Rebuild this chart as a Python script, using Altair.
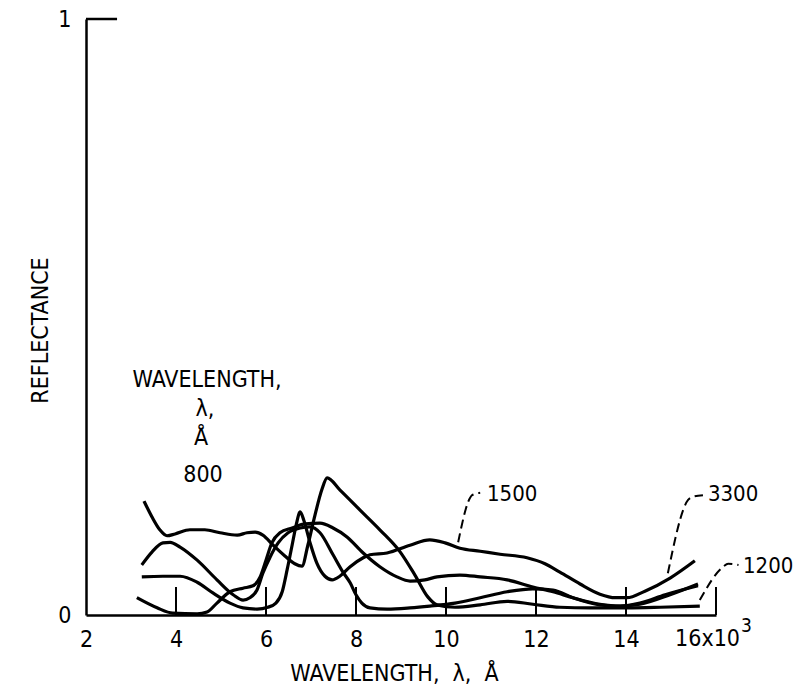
import altair as alt
import pandas as pd

# ---- curve data (wavelength in 10^3 Å, reflectance) ----
x_800 = [3.29, 3.47, 3.64, 3.80, 3.98, 4.31, 4.64, 4.98, 5.36, 5.58, 5.76, 5.93, 6.16, 6.42, 6.64, 6.80,
         6.93, 7.09, 7.24, 7.36, 7.64, 8.09, 8.53, 8.98, 9.31, 9.60, 9.80, 10.2, 10.76, 11.36, 11.93,
         12.53, 13.2, 14.02, 14.76, 15.64]
y_800 = [0.191, 0.164, 0.143, 0.133, 0.136, 0.143, 0.143, 0.138, 0.134, 0.138, 0.139, 0.134, 0.117, 0.099,
         0.086, 0.082, 0.117, 0.168, 0.210, 0.230, 0.210, 0.176, 0.143, 0.106, 0.067, 0.030, 0.017, 0.013,
         0.017, 0.023, 0.018, 0.013, 0.012, 0.012, 0.013, 0.015]

x_1500 = [3.24, 3.71, 4.09, 4.47, 4.82, 5.20, 5.49, 5.80, 6.04, 6.22, 6.36, 6.47, 6.58, 6.67, 6.76, 6.84,
          6.98, 7.13, 7.31, 7.47, 7.64, 7.87, 8.16, 8.31, 8.69, 9.2, 9.64, 9.98, 10.31, 10.76, 11.2, 11.8,
          12.2, 12.53, 12.98, 13.42, 13.76, 14.02, 14.42, 14.98, 15.53]
y_1500 = [0.064, 0.065, 0.065, 0.055, 0.037, 0.020, 0.012, 0.010, 0.013, 0.020, 0.039, 0.076, 0.117, 0.151,
          0.173, 0.159, 0.121, 0.087, 0.065, 0.059, 0.065, 0.081, 0.096, 0.101, 0.104, 0.117, 0.126, 0.121,
          0.112, 0.107, 0.102, 0.096, 0.086, 0.072, 0.052, 0.035, 0.029, 0.029, 0.040, 0.062, 0.091]

x_3300 = [3.24, 3.47, 3.71, 3.87, 4.09, 4.47, 4.91, 5.27, 5.49, 5.64, 5.80, 5.93, 6.09, 6.27, 6.49, 6.76,
          6.98, 7.2, 7.49, 7.71, 7.87, 8.0, 8.13, 8.31, 8.69, 9.2, 9.64, 10.2, 10.76, 11.36, 11.93, 12.38,
          12.82, 13.42, 13.87, 14.31, 14.87, 15.6]
y_3300 = [0.084, 0.106, 0.121, 0.122, 0.114, 0.092, 0.059, 0.034, 0.025, 0.029, 0.042, 0.070, 0.097, 0.121,
          0.138, 0.146, 0.148, 0.138, 0.101, 0.072, 0.054, 0.034, 0.020, 0.012, 0.010, 0.012, 0.015, 0.020,
          0.029, 0.039, 0.044, 0.042, 0.029, 0.017, 0.015, 0.020, 0.034, 0.049]

x_1200 = [3.13, 3.58, 3.93, 4.47, 4.69, 4.91, 5.20, 5.49, 5.71, 5.87, 6.0, 6.13, 6.31, 6.58, 6.87, 7.2,
          7.49, 7.8, 8.16, 8.53, 8.91, 9.2, 9.53, 9.8, 10.31, 10.76, 11.36, 11.93, 12.38, 12.82, 13.42,
          13.87, 14.31, 14.98, 15.6]
y_1200 = [0.029, 0.012, 0.003, 0.002, 0.005, 0.020, 0.039, 0.045, 0.049, 0.064, 0.092, 0.121, 0.138, 0.146,
          0.153, 0.154, 0.146, 0.131, 0.104, 0.081, 0.064, 0.057, 0.059, 0.064, 0.067, 0.064, 0.059, 0.047,
          0.039, 0.029, 0.018, 0.015, 0.018, 0.034, 0.052]

# ---- axis tick values ----
x_ticks = [2, 4, 6, 8, 10, 12, 14, 16]
inner_ticks = [4, 6, 8, 10, 12, 14, 16]
y_ticks = [0, 1]
last_label = "16x10"
last_exp = "3"

# ---- leader lines (dashed) ----
lead_1500_x = [10.27, 10.53, 10.58, 10.76]
lead_1500_y = [0.122, 0.196, 0.201, 0.205]
lead_3300_x = [14.93, 15.38, 15.47, 15.71]
lead_3300_y = [0.070, 0.193, 0.198, 0.201]
lead_1200_x = [15.64, 16.16, 16.27, 16.50]
lead_1200_y = [0.025, 0.081, 0.086, 0.084]

# ---- labels ----
lab_text = ["1500", "3300", "1200"]
lab_x = [10.91, 15.82, 16.60]
lab_y = [0.203, 0.203, 0.082]

key_text = ["WAVELENGTH,", "λ,", "Å", "800"]
key_x = [4.69, 4.64, 4.56, 4.60]
key_y = [0.394, 0.345, 0.297, 0.235]

FONT = "DejaVu Sans Condensed, DejaVu Sans, sans-serif"
FS = 23

rows = []
for name, xs, ys in [("800", x_800, y_800), ("1500", x_1500, y_1500),
                     ("3300", x_3300, y_3300), ("1200", x_1200, y_1200)]:
    for a, b in zip(xs, ys):
        rows.append({"series": name, "x": a, "y": b})
df = pd.DataFrame(rows)

lrows = []
for name, xs, ys in [("1500", lead_1500_x, lead_1500_y), ("3300", lead_3300_x, lead_3300_y),
                     ("1200", lead_1200_x, lead_1200_y)]:
    for i, (a, b) in enumerate(zip(xs, ys)):
        lrows.append({"series": name, "x": a, "y": b, "o": i})
ldf = pd.DataFrame(lrows)

xs_ = alt.Scale(domain=[2, 16], nice=False, zero=False)
ys_ = alt.Scale(domain=[0, 1], nice=False, zero=False)

x_axis = alt.Axis(
    values=x_ticks, labelExpr="datum.value == 16 ? '' : format(datum.value, 'd')",
    ticks=False, grid=False, domainColor="black", domainWidth=2.5,
    labelFont=FONT, labelFontSize=FS, labelColor="black", labelPadding=13,
    labelFlush=False, labelOverlap=False,
    title="WAVELENGTH,\u00a0 λ,\u00a0 Å", titleFont=FONT, titleFontSize=FS, titleFontWeight="normal",
    titleColor="black", titleBaseline="middle", titleAlign="center", titleY=58, titleX=308)
y_axis = alt.Axis(
    values=y_ticks, format="d", ticks=False, grid=False, domainColor="black", domainWidth=2.5,
    labelFont=FONT, labelFontSize=FS, labelColor="black", labelPadding=15,
    labelFlush=False, labelOverlap=False,
    title="REFLECTANCE", titleFont=FONT, titleFontSize=FS, titleFontWeight="normal",
    titleColor="black", titleBaseline="middle", titleAlign="center", titleX=-46, titleY=311)


def X(field="x:Q"):
    return alt.X(field, scale=xs_, axis=x_axis)


def Y(field="y:Q"):
    return alt.Y(field, scale=ys_, axis=y_axis)


lines = alt.Chart(df).mark_line(color="black", strokeWidth=3.2, interpolate="monotone",
                                clip=False).encode(x=X(), y=Y(), detail="series:N")

tick_df = pd.DataFrame({"x": inner_ticks, "y": [0] * len(inner_ticks), "y2": [0.047] * len(inner_ticks)})
ticks = alt.Chart(tick_df).mark_rule(color="black", strokeWidth=2).encode(x=X(), y=Y(), y2="y2:Q")

top_df = pd.DataFrame({"x": [2], "x2": [2.69], "y": [1]})
top_tick = alt.Chart(top_df).mark_rule(color="black", strokeWidth=2.5).encode(x=X(), x2="x2:Q", y=Y())

leaders = alt.Chart(ldf).mark_line(color="black", strokeWidth=2, strokeDash=[9, 5],
                                   interpolate="monotone", clip=False).encode(
    x=X(), y=Y(), detail="series:N", order="o:Q")

lab_df = pd.DataFrame({"x": lab_x, "y": lab_y, "t": lab_text})
labels = alt.Chart(lab_df).mark_text(align="left", baseline="middle", font=FONT, fontSize=22,
                                     color="black").encode(x=X(), y=Y(), text="t:N")

key_df = pd.DataFrame({"x": key_x, "y": key_y, "t": key_text})
keys = alt.Chart(key_df).mark_text(align="center", baseline="middle", font=FONT, fontSize=FS,
                                   color="black").encode(x=X(), y=Y(), text="t:N")

last_df = pd.DataFrame({"x": [16], "y": [0], "t": [last_label]})
last = alt.Chart(last_df).mark_text(align="right", baseline="top", font=FONT, fontSize=FS,
                                    color="black", dx=24, dy=13).encode(x=X(), y=Y(), text="t:N")

sup_df = pd.DataFrame({"x": [16], "y": [0], "t": [last_exp]})
sup = alt.Chart(sup_df).mark_text(align="left", baseline="top", font=FONT, fontSize=19,
                                  color="black", dx=25, dy=2).encode(x=X(), y=Y(), text="t:N")

chart = alt.layer(lines, ticks, top_tick, leaders, labels, keys, last, sup).properties(
    width=630, height=596,
    autosize=alt.AutoSizeParams(type="none"),
    padding={"left": 86, "top": 19, "right": 79, "bottom": 79},
    background="white",
).configure_view(stroke=None)

chart.save("out.html", embed_options={"renderer": "svg", "actions": False})
